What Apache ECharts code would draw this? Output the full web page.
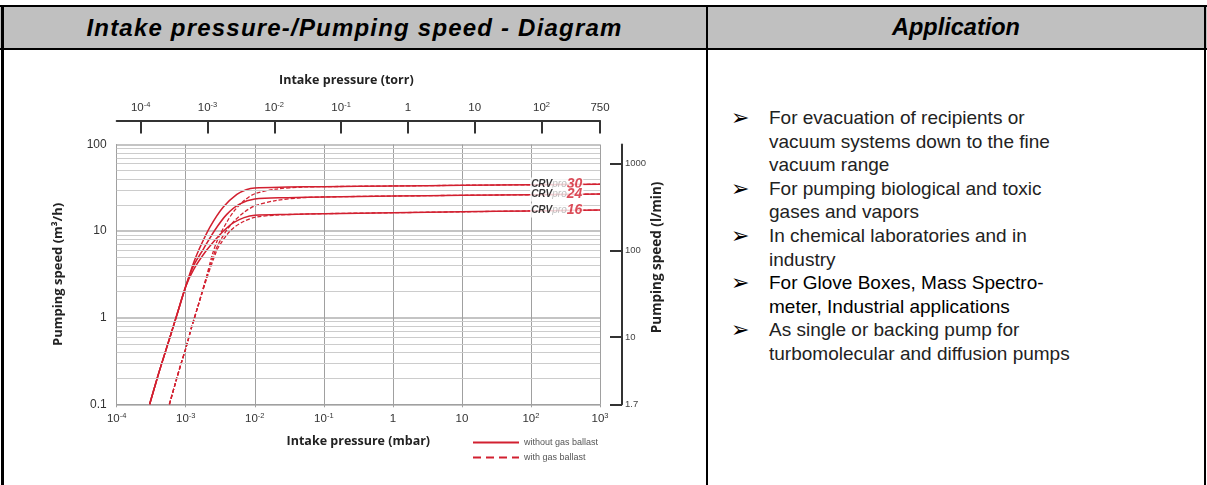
<!DOCTYPE html>
<html>
<head>
<meta charset="utf-8">
<script src="https://cdn.jsdelivr.net/npm/echarts@6/dist/echarts.min.js"></script>
<style>
  html, body { margin:0; padding:0; background:#fff; }
  #page { position:relative; width:1207px; height:485px; overflow:hidden; font-family:"Liberation Sans", Arial, sans-serif; }
  .abs { position:absolute; }
  .hdr { background:#c0c0c0; }
  .htxt { position:absolute; top:6px; height:43px; line-height:43px; text-align:center; font-weight:bold; font-style:italic; font-size:24px; color:#000; }
  #list { position:absolute; left:730px; top:106px; width:470px; font-size:19px; line-height:23.6px; color:#222; }
  .item { position:relative; padding-left:39px; }
  .bul { position:absolute; left:1px; top:0; font-family:"DejaVu Sans", sans-serif; font-size:22px; line-height:23.6px; color:#000; }
  #chart { position:absolute; left:0; top:0; width:1207px; height:485px; }
</style>
</head>
<body>
<div id="page">
  <div class="abs hdr" style="left:0;top:6px;width:1207px;height:43px;"></div>
  <div class="abs" style="left:0;top:5px;width:1207px;height:2px;background:#000;"></div>
  <div class="abs" style="left:0;top:48px;width:1207px;height:1.5px;background:#000;"></div>
  <div class="abs" style="left:1px;top:5px;width:2.5px;height:480px;background:#000;"></div>
  <div class="abs" style="left:706px;top:5px;width:2px;height:480px;background:#000;"></div>
  <div class="abs" style="left:1204px;top:5px;width:2px;height:480px;background:#000;"></div>
  <div class="htxt" style="left:3px;width:703px;letter-spacing:1.2px;">Intake pressure-/Pumping speed - Diagram</div>
  <div class="htxt" style="left:708px;width:496px;font-size:23.5px;">Application</div>
  <div id="list"></div>
  <div id="chart"></div>
</div>
<script>
// ---------- data ----------
const applications = [
  ["For evacuation of recipients or", "vacuum systems down to the fine", "vacuum range"],
  ["For pumping biological and toxic", "gases and vapors"],
  ["In chemical laboratories and in", "industry"],
  ["For Glove Boxes, Mass Spectro-", "meter, Industrial applications"],
  ["As single or backing pump for", "turbomolecular and diffusion pumps"]
];

const mbarTicks = [1e-4, 1e-3, 1e-2, 1e-1, 1, 10, 100, 1000];
const mbarTickLabels = ["10^-4", "10^-3", "10^-2", "10^-1", "1", "10", "10^2", "10^3"];
const torrTicks = [1e-4, 1e-3, 1e-2, 1e-1, 1, 10, 100, 750];
const torrTickLabels = ["10^-4", "10^-3", "10^-2", "10^-1", "1", "10", "10^2", "750"];
const lminTicks = [1.6667, 10, 100, 1000];
const lminTickLabels = ["1.7", "10", "100", "1000"];
const m3hLabels = ["0.1", "1", "10", "100"];

// pressure (mbar), pumping speed (m3/h)
const crv30Solid = [[3e-4,0.1],[4e-4,0.22],[5e-4,0.39],[6e-4,0.62],[7.5e-4,1.1],[1e-3,2.3],[1.3e-3,4.3],[1.55e-3,6.1],[2.25e-3,11.2],[3.5e-3,19],[5.5e-3,26.5],[7.5e-3,30],[1e-2,31.5],[3e-2,32.2],[1e-1,32.6],[1,33.2],[10,33.8],[100,34.3],[1000,34.8]];
const crv24Solid = [[3e-4,0.1],[4e-4,0.22],[5e-4,0.39],[6e-4,0.62],[7.5e-4,1.1],[1e-3,2.3],[1.3e-3,4.0],[1.8e-3,6.2],[2.65e-3,10.3],[3.9e-3,15.5],[6e-3,20.5],[1e-2,23.5],[3e-2,24.3],[1e-1,24.8],[1,25.4],[10,25.9],[100,26.3],[1000,26.8]];
const crv16Solid = [[3e-4,0.1],[4e-4,0.22],[5e-4,0.39],[6e-4,0.62],[7.5e-4,1.1],[1e-3,2.3],[1.3e-3,3.6],[2e-3,6],[3e-3,8.8],[4e-3,11],[5e-3,12.6],[7e-3,14.3],[1e-2,15.2],[3e-2,15.6],[1e-1,15.9],[1,16.3],[10,16.7],[100,17.1],[1000,17.5]];
const crv30Ballast = [[5.8e-4,0.1],[7e-4,0.17],[8.5e-4,0.29],[1e-3,0.44],[1.2e-3,0.75],[1.5e-3,1.35],[2e-3,3.0],[2.5e-3,5.8],[3e-3,8.5],[4e-3,13],[5e-3,17],[7e-3,22.5],[1e-2,27],[2e-2,30.5],[5e-2,32.3],[1e-1,32.6],[1,33.2],[10,33.8],[100,34.3],[1000,34.8]];
const crv24Ballast = [[5.8e-4,0.1],[7e-4,0.17],[8.5e-4,0.29],[1e-3,0.44],[1.2e-3,0.75],[1.5e-3,1.35],[2e-3,2.9],[2.6e-3,5.6],[3e-3,7.2],[4e-3,10.5],[5e-3,13],[7e-3,16.5],[1e-2,19.5],[2e-2,22.5],[5e-2,24.3],[1e-1,24.8],[1,25.4],[10,25.9],[100,26.3],[1000,26.8]];
const crv16Ballast = [[5.8e-4,0.1],[7e-4,0.17],[8.5e-4,0.29],[1e-3,0.44],[1.2e-3,0.75],[1.5e-3,1.35],[2e-3,2.8],[2.7e-3,5.5],[3e-3,6.6],[4e-3,9.2],[5e-3,11],[7e-3,13],[1e-2,14.4],[2e-2,15.3],[5e-2,15.7],[1e-1,15.9],[1,16.3],[10,16.7],[100,17.1],[1000,17.5]];

const modelNames = ["30", "24", "16"];
const labelPressure = 236; // mbar, where the model tag sits on the curve
const minorSpeeds = [0.2,0.3,0.4,0.5,0.6,0.7,0.8,0.9,2,3,4,5,6,7,8,9,20,30,40,50,60,70,80,90];

// ---------- text list ----------
const list = document.getElementById('list');
applications.forEach(function (lines, i) {
  const d = document.createElement('div');
  d.className = 'item';
  if (i === 3) d.style.color = '#000';
  d.innerHTML = '<span class="bul">\u27A2</span>' + lines.join('<br>');
  list.appendChild(d);
});

// ---------- helpers ----------
function supLabel(s) {
  const m = s.match(/^10\^(-?\d)$/);
  if (!m) return '{b|' + s + '}';
  return '{b|10}{s|' + m[1] + '}';
}
function interpLog(arr, x) {
  for (let i = 0; i < arr.length - 1; i++) {
    const a = arr[i], b = arr[i + 1];
    if (x >= a[0] && x <= b[0]) {
      const t = (Math.log10(x) - Math.log10(a[0])) / (Math.log10(b[0]) - Math.log10(a[0]));
      return Math.pow(10, Math.log10(a[1]) + t * (Math.log10(b[1]) - Math.log10(a[1])));
    }
  }
  return arr[arr.length - 1][1];
}
function findIdx(ticks, v) {
  return ticks.findIndex(function (t) { return Math.abs(Math.log10(t) - Math.log10(v)) < 1e-3; });
}
const richSup = {
  b: { fontSize: 11.5, color: '#333', fontFamily: 'Liberation Sans', lineHeight: 14 },
  s: { fontSize: 7.5, color: '#333', fontFamily: 'Liberation Sans', verticalAlign: 'top', lineHeight: 8 }
};

const RED = '#d22030';
const solidSets = [crv30Solid, crv24Solid, crv16Solid];
const dashSets = [crv30Ballast, crv24Ballast, crv16Ballast];

const series = [];
series.push({
  type: 'line', data: [], silent: true, z: 1, xAxisIndex: 0, yAxisIndex: 0,
  markLine: {
    silent: true, symbol: ['none', 'none'], label: { show: false },
    lineStyle: { color: '#cccccc', width: 1, type: 'solid' },
    data: minorSpeeds.map(function (v) { return { yAxis: v }; })
  }
});
solidSets.forEach(function (d) {
  series.push({ name: 'without gas ballast', type: 'line', data: d, symbol: 'none', smooth: 0.3,
    lineStyle: { color: RED, width: 1.5, type: 'solid' }, itemStyle: { color: RED }, z: 3 });
});
dashSets.forEach(function (d) {
  series.push({ name: 'with gas ballast', type: 'line', data: d, symbol: 'none', smooth: 0.3,
    lineStyle: { color: RED, width: 1.3, type: [4, 2] }, itemStyle: { color: RED }, z: 3 });
});
series.push({
  type: 'scatter', symbolSize: 1, z: 6, silent: true,
  itemStyle: { color: 'rgba(0,0,0,0)' },
  data: modelNames.map(function (n, i) { return { value: [labelPressure, interpLog(solidSets[i], labelPressure)], name: n }; }),
  label: {
    show: true, position: 'inside', backgroundColor: '#fff', padding: [0, 1, 0, 1],
    formatter: function (p) { return '{c|CRV}{p|pro}{n|' + p.name + '}'; },
    rich: {
      c: { fontFamily: 'Liberation Sans', fontWeight: 'bold', fontStyle: 'italic', fontSize: 10, color: '#000' },
      p: { fontFamily: 'Liberation Sans', fontStyle: 'italic', fontSize: 10, color: '#b0b0b0' },
      n: { fontFamily: 'Liberation Sans', fontWeight: 'bold', fontStyle: 'italic', fontSize: 14, color: RED }
    }
  }
});

const chart = echarts.init(document.getElementById('chart'), null, { renderer: 'canvas' });
chart.setOption({
  animation: false,
  backgroundColor: 'transparent',
  grid: { left: 116.7, top: 144.5, width: 483.3, height: 259.8, containLabel: false },
  legend: {
    data: [
      { name: 'without gas ballast', lineStyle: { width: 2, type: 'solid' } },
      { name: 'with gas ballast', lineStyle: { width: 2, type: [8, 5] } }
    ],
    orient: 'vertical', left: 467, top: 433, itemWidth: 46, itemHeight: 8, itemGap: 6,
    selectedMode: false,
    itemStyle: { color: 'rgba(0,0,0,0)', borderColor: 'rgba(0,0,0,0)', borderWidth: 0, opacity: 0 },
    textStyle: { fontSize: 9, color: '#555', fontFamily: 'Liberation Sans' }
  },
  xAxis: [
    {
      type: 'log', logBase: 10, min: 1e-4, max: 1e3, position: 'bottom',
      axisLine: { show: true, lineStyle: { color: '#a0a0a0', width: 1 } },
      axisTick: { show: true, length: 3, lineStyle: { color: '#a0a0a0' } },
      axisLabel: {
        margin: 8,
        formatter: function (v) { const i = findIdx(mbarTicks, v); return i < 0 ? '' : supLabel(mbarTickLabels[i]); },
        rich: richSup
      },
      splitLine: { show: true, lineStyle: { color: '#a0a0a0', width: 1 } },
      name: 'Intake pressure (mbar)', nameLocation: 'middle', nameGap: 31,
      nameTextStyle: { fontFamily: 'Open Sans', fontWeight: 'bold', fontSize: 12.5, color: '#222' }
    },
    {
      type: 'log', logBase: 10, min: 4.38e-5, max: 750, position: 'top', offset: 24,
      axisLine: { show: true, lineStyle: { color: '#333', width: 2 } },
      axisTick: { show: true, inside: true, length: 13, lineStyle: { color: '#333', width: 2 }, customValues: torrTicks },
      axisLabel: {
        margin: 6, customValues: torrTicks,
        formatter: function (v) { const i = findIdx(torrTicks, v); return i < 0 ? '' : supLabel(torrTickLabels[i]); },
        rich: richSup
      },
      splitLine: { show: false },
      name: 'Intake pressure (torr)', nameLocation: 'middle', nameGap: 34,
      nameTextStyle: { fontFamily: 'Open Sans', fontWeight: 'bold', fontSize: 12.5, color: '#222', padding: [0, 24, 0, 0] }
    }
  ],
  yAxis: [
    {
      type: 'log', logBase: 10, min: 0.1, max: 100, position: 'left',
      axisLine: { show: true, lineStyle: { color: '#a0a0a0', width: 1 } },
      axisTick: { show: false },
      axisLabel: { margin: 10, fontSize: 12, color: '#333', fontFamily: 'Liberation Sans',
        formatter: function (v) { const k = Math.round(Math.log10(v)) + 1; return m3hLabels[k] || ''; } },
      splitLine: { show: true, lineStyle: { color: '#b0b0b0', width: 1.5 } },
      name: 'Pumping speed (m³/h)', nameLocation: 'middle', nameGap: 52,
      nameTextStyle: { fontFamily: 'Open Sans', fontWeight: 'bold', fontSize: 13, color: '#222' }
    },
    {
      type: 'log', logBase: 10, min: 1.6667, max: 1666.7, position: 'right', offset: 22,
      axisLine: { show: true, lineStyle: { color: '#333', width: 2 } },
      axisTick: { show: true, inside: true, length: 12, lineStyle: { color: '#333', width: 2 }, customValues: lminTicks },
      axisLabel: { margin: 3, fontSize: 9.5, color: '#444', fontFamily: 'Liberation Sans', customValues: lminTicks,
        formatter: function (v) { const i = lminTicks.findIndex(function (t) { return Math.abs(t - v) / t < 1e-3; }); return i < 0 ? '' : lminTickLabels[i]; } },
      splitLine: { show: false },
      name: 'Pumping speed (l/min)', nameLocation: 'middle', nameGap: 22,
      nameTextStyle: { fontFamily: 'Open Sans', fontWeight: 'bold', fontSize: 13.5, color: '#222', padding: [0, 0, 0, 34] }
    }
  ],
  series: series
});
</script>
</body>
</html>
